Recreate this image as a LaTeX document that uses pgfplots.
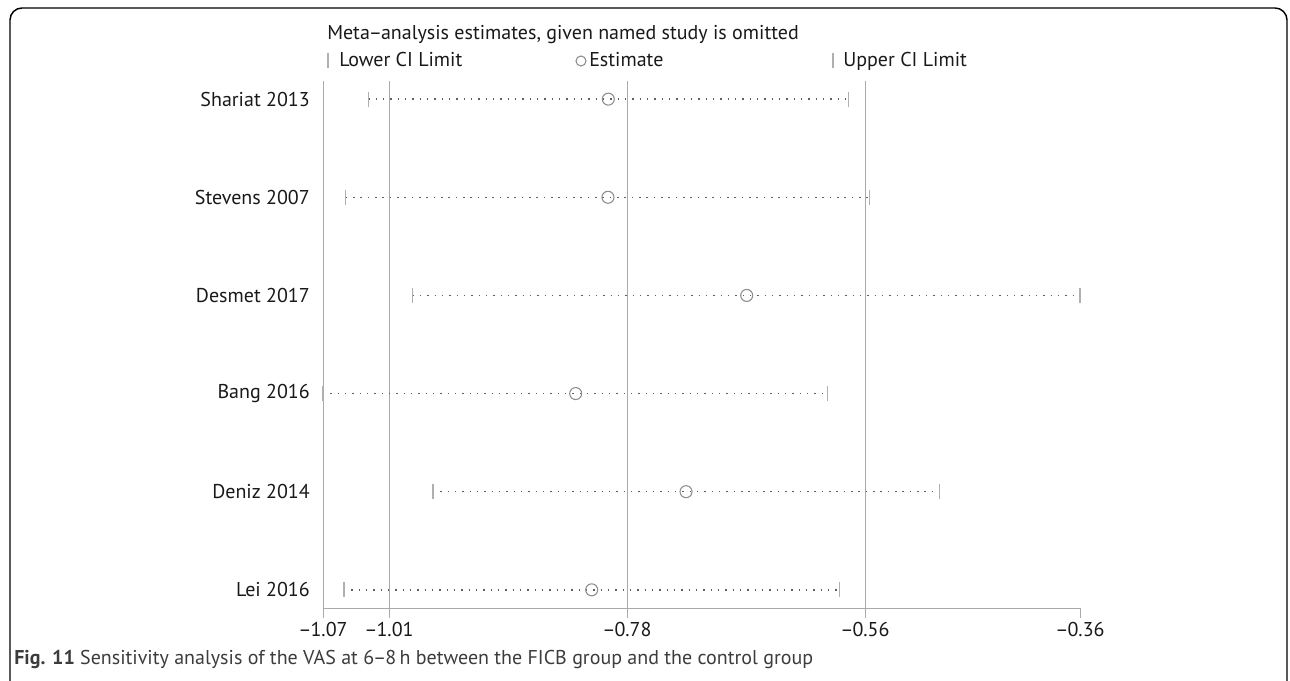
\documentclass[border=0pt]{standalone}
\usepackage{fontspec}
\setmainfont{PT Sans}
\usepackage{pgfplots}
\usepackage{pgfplotstable}
\pgfplotsset{compat=1.18}
\definecolor{refgray}{RGB}{170,170,170}
\definecolor{dotgray}{RGB}{95,95,95}
\definecolor{capgray}{RGB}{175,175,175}
\definecolor{circgray}{RGB}{140,140,140}
\definecolor{txt}{RGB}{25,25,25}
\definecolor{captxt}{RGB}{60,60,60}
\newcommand{\dd}{\kern-0.8pt–\kern-0.8pt}

\pgfplotstableread{
y lo est hi
6 -1.0275 -0.8024 -0.5770
5 -1.0487 -0.8027 -0.5572
4 -0.9859 -0.6726 -0.3600
3 -1.0700 -0.8330 -0.5966
2 -0.9668 -0.7295 -0.4920
1 -1.0503 -0.8180 -0.5854
}\cidata

\begin{document}
\begin{tikzpicture}
\begin{scope}[x=0.75pt,y=0.75pt]
\useasboundingbox (0,0) rectangle (1290,681);
\draw[line width=1.1pt, rounded corners=9pt] (10,673) rectangle (1287,-12);
% title and legend
\node[anchor=base west, inner sep=0pt, text=txt, font=\fontsize{15}{18}\selectfont] at (327,641) {Meta\dd analysis estimates, given named study is omitted};
\draw[capgray, line width=0.9pt] (328,628) -- (328,613);
\node[anchor=base west, inner sep=0pt, text=txt, font=\fontsize{15}{18}\selectfont] at (339,614) {Lower CI Limit};
\draw[circgray, line width=0.8pt] (581,620) circle (5);
\node[anchor=base west, inner sep=0pt, text=txt, font=\fontsize{15}{18}\selectfont] at (589,614) {Estimate};
\draw[capgray, line width=0.9pt] (833,628) -- (833,613);
\node[anchor=base west, inner sep=0pt, text=txt, font=\fontsize{15}{18}\selectfont] at (843,614) {Upper CI Limit};
% caption
\node[anchor=base west, inner sep=0pt, text=captxt, font=\fontsize{15}{18}\selectfont] at (14,16) {\textbf{Fig. 11} Sensitivity analysis of the VAS at 6\dd 8\,h between the FICB group and the control group};
\end{scope}
\begin{axis}[
  at={(242.25pt,54.75pt)}, anchor=south west,
  scale only axis, width=567.75pt, height=395.25pt,
  xmin=-1.07, xmax=-0.36, ymin=0.815, ymax=6.185,
  axis x line*=bottom, axis y line*=left,
  axis line style={refgray, line width=0.65pt, -},
  xtick={-1.07,-1.0081,-0.7849,-0.5617,-0.36},
  xticklabels={–\kern-0.8pt1.07,–\kern-0.8pt1.01,–\kern-0.8pt0.78,–\kern-0.8pt0.56,–\kern-0.8pt0.36},
  ytick={1,2,3,4,5,6},
  yticklabels={Lei 2016,Deniz 2014,Bang 2016,Desmet 2017,Stevens 2007,Shariat 2013},
  tick align=outside, major tick length=7.5pt,
  x tick style={refgray, line width=0.65pt},
  y tick style={draw=none},
  tick label style={font=\fontsize{15}{18}\selectfont, text=txt},
  yticklabel style={inner sep=0pt, xshift=-2.25pt},
  xticklabel style={inner sep=0pt, yshift=-3pt},
  clip=false,
]
\addplot[refgray, line width=0.65pt] coordinates {(-1.0081,0.815) (-1.0081,6.185)};
\addplot[refgray, line width=0.65pt] coordinates {(-0.7849,0.815) (-0.7849,6.185)};
\addplot[refgray, line width=0.65pt] coordinates {(-0.5617,0.815) (-0.5617,6.185)};
% CI lines (dotted)
\addplot[dotgray, line width=1.1pt, dash pattern=on 1.1pt off 4.4pt] coordinates {(-1.0275,6) (-0.5770,6)};
\addplot[dotgray, line width=1.1pt, dash pattern=on 1.1pt off 4.4pt] coordinates {(-1.0487,5) (-0.5572,5)};
\addplot[dotgray, line width=1.1pt, dash pattern=on 1.1pt off 4.4pt] coordinates {(-0.9859,4) (-0.3600,4)};
\addplot[dotgray, line width=1.1pt, dash pattern=on 1.1pt off 4.4pt] coordinates {(-1.0700,3) (-0.5966,3)};
\addplot[dotgray, line width=1.1pt, dash pattern=on 1.1pt off 4.4pt] coordinates {(-0.9668,2) (-0.4920,2)};
\addplot[dotgray, line width=1.1pt, dash pattern=on 1.1pt off 4.4pt] coordinates {(-1.0503,1) (-0.5854,1)};
% caps
\addplot[only marks, mark=|, mark size=5.6pt, mark options={draw=capgray, line width=1pt}] table[x=lo,y=y]{\cidata};
\addplot[only marks, mark=|, mark size=5.6pt, mark options={draw=capgray, line width=1pt}] table[x=hi,y=y]{\cidata};
% estimates
\addplot[only marks, mark=o, mark size=4.5pt, mark options={draw=circgray, line width=0.8pt}] table[x=est,y=y]{\cidata};
\end{axis}
\end{tikzpicture}
\end{document}
